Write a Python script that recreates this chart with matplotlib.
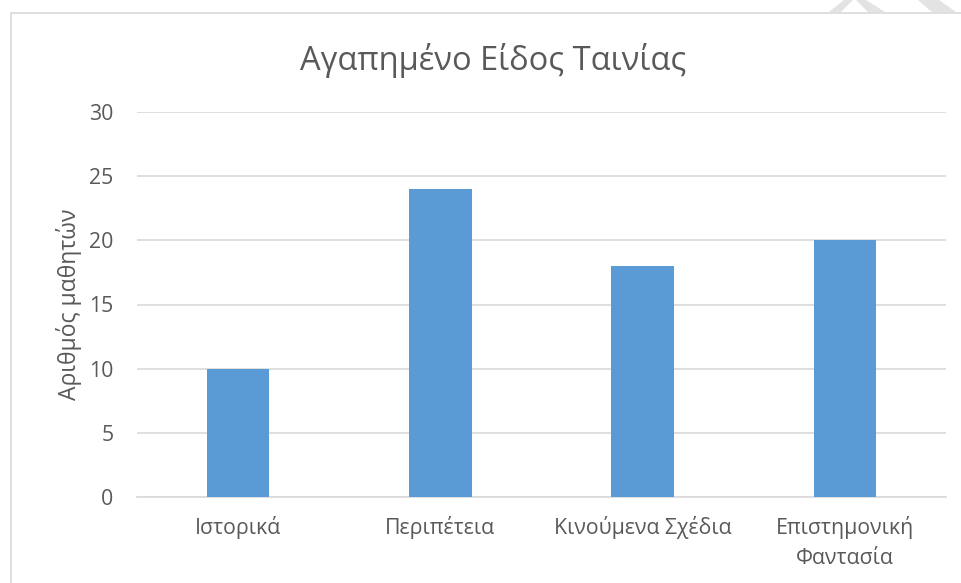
import matplotlib.pyplot as plt
from matplotlib.patches import Rectangle, Polygon

# Data
genres = ['Ιστορικά', 'Περιπέτεια', 'Κινούμενα Σχέδια', 'Επιστημονική\nΦαντασία']
students = [10, 24, 18, 20]
y_ticks = [0, 5, 10, 15, 20, 25, 30]

plt.rcParams['font.family'] = ['Open Sans', 'DejaVu Sans']
text_color = '#595959'
grid_color = '#D9D9D9'
bar_color = '#5B9BD5'

W, H = 961, 583
fig = plt.figure(figsize=(W / 100, H / 100), dpi=100)

# chart frame
fig.patches.append(Rectangle((11 / W, -0.1), 1.2, 1 - 13 / H + 0.1,
                             transform=fig.transFigure, fill=False,
                             edgecolor=grid_color, linewidth=1.2))

# faint watermark pieces at the top edge
wm = '#E3E3E3'
def px(pts):
    return [(x / W, 1 - y / H) for x, y in pts]
fig.patches.append(Polygon(px([(829, 12), (844, 0), (853, 0), (841, 12)]),
                           transform=fig.transFigure, color=wm, lw=0))
fig.patches.append(Polygon(px([(856, 0), (866, 0), (885, 12), (868, 12)]),
                           transform=fig.transFigure, color=wm, lw=0))
fig.patches.append(Polygon(px([(918, 0), (939, 0), (956, 12), (932, 12)]),
                           transform=fig.transFigure, color=wm, lw=0))

ax = fig.add_axes([137 / W, 1 - 497 / H, (946 - 137) / W, (497 - 112) / H])
x = range(len(genres))
ax.bar(x, students, width=0.31, color=bar_color, zorder=3)

ax.set_xlim(-0.5, len(genres) - 0.5)
ax.set_ylim(0, 30)
ax.set_yticks(y_ticks)
ax.set_xticks(list(x))
ax.set_xticklabels(genres, linespacing=1.55)
ax.grid(axis='y', color=grid_color, linewidth=1.2, zorder=0)
for side in ['top', 'right', 'left']:
    ax.spines[side].set_visible(False)
ax.spines['bottom'].set_color(grid_color)
ax.spines['bottom'].set_linewidth(1.2)
ax.tick_params(length=0, labelsize=15.3, colors=text_color)
ax.tick_params(axis='x', pad=14)
ax.tick_params(axis='y', pad=17)

ax.set_ylabel('Αριθμός μαθητών', fontsize=16.5, color=text_color, labelpad=5)
fig.text(493 / W, 1 - 60 / H, 'Αγαπημένο Είδος Ταινίας', fontsize=23.5,
         color=text_color, ha='center', va='center')

fig.savefig('out.png', dpi=100)
